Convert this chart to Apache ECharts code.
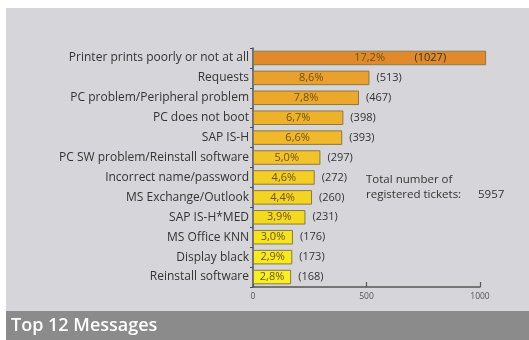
<!DOCTYPE html>
<html><head><meta charset="utf-8">
<script src="https://cdn.jsdelivr.net/npm/echarts@6/dist/echarts.min.js"></script>
<style>html,body{margin:0;padding:0;background:#fff}#c{width:529px;height:340px}</style>
</head><body><div id="c"></div>
<script>
const categories = ["Printer prints poorly or not at all","Requests","PC problem/Peripheral problem","PC does not boot","SAP IS-H","PC SW problem/Reinstall software","Incorrect name/password","MS Exchange/Outlook","SAP IS-H*MED","MS Office KNN","Display black","Reinstall software"];
const counts = [1027,513,467,398,393,297,272,260,231,176,173,168];
const percents = [17.2,8.6,7.8,6.7,6.6,5.0,4.6,4.4,3.9,3.0,2.9,2.8];
const barColors = ["#e08a2c","#eaa02c","#eca82a","#eeb22a","#f0b82a","#f2c42a","#f3ce24","#f4d422","#f4da1e","#f6e41c","#f8ea1c","#f8f020"];
const xTicks = [0,500,1000];
const totalTickets = 5957;

const FONT = "Open Sans";
const chart = echarts.init(document.getElementById('c'), null, {renderer:'canvas'});
const pctData = counts.map((v,i)=>({
  value:v,
  itemStyle:{color:barColors[i]},
  label:{formatter: percents[i].toFixed(1).replace('.',',')+'%'}
}));
const cntData = counts.map((v,i)=> i===0 ? {value:v,label:{position:'insideRight',distance:40}} : {value:v});
chart.setOption({
  animation:false,
  backgroundColor:'#ffffff',
  graphic:[
    {type:'rect',z:-10,shape:{x:6,y:8,width:523,height:303},style:{fill:'#d6d5da'}},
    {type:'rect',z:-10,shape:{x:6,y:311,width:523,height:29},style:{fill:'#8b8b8b'}},
    {type:'text',left:11,top:317,style:{text:'Top 12 Messages',fill:'#ffffff',font:'600 18px "Open Sans"'}},
    {type:'text',left:366,top:174,style:{text:'Total number of',fill:'#333',font:'11.5px "Open Sans"'}},
    {type:'text',left:366,top:189,style:{text:'registered tickets:',fill:'#333',font:'11.5px "Open Sans"'}},
    {type:'text',left:478,top:189,style:{text:String(totalTickets),fill:'#333',font:'11.5px "Open Sans"'}}
  ],
  grid:{left:253,right:49,top:48,bottom:53,containLabel:false},
  xAxis:{type:'value',min:xTicks[0],max:xTicks[xTicks.length-1],interval:xTicks[1]-xTicks[0],
    axisLine:{show:true,lineStyle:{color:'#555',width:1.5}},
    axisTick:{show:true,inside:true,length:5,lineStyle:{color:'#555',width:1.2}},
    axisLabel:{color:'#555',fontSize:8.5,fontFamily:FONT,margin:5,formatter:v=>String(v)},
    splitLine:{show:false}},
  yAxis:{type:'category',data:categories,inverse:true,
    axisLine:{show:true,lineStyle:{color:'#4a4d5a',width:1.5}},
    axisTick:{show:true,length:3,lineStyle:{color:'#4a4d5a'}},
    axisLabel:{color:'#333',fontSize:12,fontFamily:FONT,margin:4}},
  series:[
    {type:'bar',data:pctData,barCategoryGap:'27%',clip:false,
     itemStyle:{borderColor:'#8a7a48',borderWidth:1},
     label:{show:true,position:'inside',color:'#6b5218',fontSize:11,fontFamily:FONT}},
    {type:'bar',data:cntData,barGap:'-100%',barCategoryGap:'27%',clip:false,silent:true,
     itemStyle:{color:'rgba(0,0,0,0)'},
     label:{show:true,position:'right',distance:7,color:'#333',fontSize:11,fontFamily:FONT,formatter:p=>'('+p.value+')'}}
  ]
});
</script></body></html>
